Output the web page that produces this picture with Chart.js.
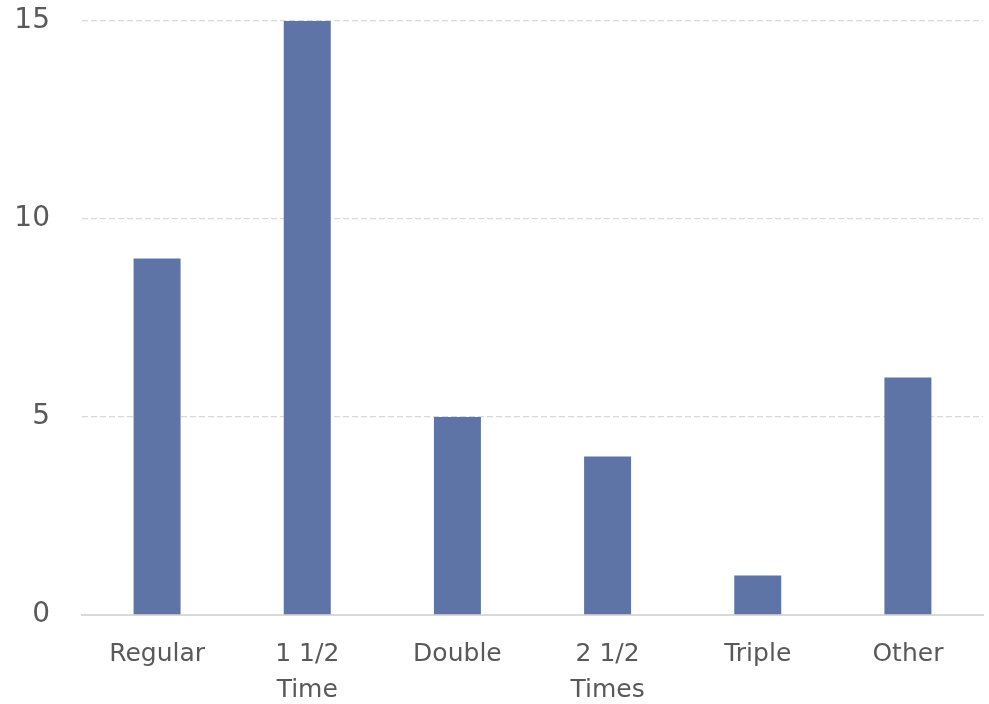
<!DOCTYPE html>
<html>
<head>
<meta charset="utf-8">
<script src="https://cdn.jsdelivr.net/npm/chart.js@4/dist/chart.umd.min.js"></script>
<style>
  html, body { margin: 0; padding: 0; background: #ffffff; }
  #wrap { width: 989px; height: 704px; position: relative; }
</style>
</head>
<body>
<div id="wrap"><canvas id="chart"></canvas></div>
<script>
// Overtime pay categories and their counts
const categories = ["Regular", ["1 1/2", "Time"], "Double", ["2 1/2", "Times"], "Triple", "Other"];
const counts = [9, 15, 5, 4, 1, 6];
const yTicks = [0, 5, 10, 15];

const barColor = "#5F74A6";
const textColor = "#595959";
const gridColor = "#D9D9D9";
const fontFamily = "'DejaVu Sans', sans-serif";

new Chart(document.getElementById("chart"), {
  type: "bar",
  data: {
    labels: categories,
    datasets: [{
      data: counts,
      backgroundColor: barColor,
      borderWidth: 0,
      barPercentage: 1,
      categoryPercentage: 0.313
    }]
  },
  options: {
    responsive: true,
    maintainAspectRatio: false,
    animation: false,
    layout: { padding: { top: 21, right: 6, bottom: 0, left: 0 } },
    plugins: { legend: { display: false }, tooltip: { enabled: false } },
    scales: {
      x: {
        afterFit: s => { s.height = 89; },
        grid: { display: false, drawTicks: false },
        border: { display: true, color: gridColor, width: 2 },
        ticks: {
          color: textColor,
          padding: 22,
          maxRotation: 0,
          autoSkip: false,
          font: { family: fontFamily, size: 25, lineHeight: 1.42 }
        }
      },
      y: {
        min: 0,
        max: 15,
        afterFit: s => { s.width = 82; s.paddingTop = 0; s.paddingBottom = 0; },
        afterBuildTicks: s => { s.ticks = yTicks.map(v => ({ value: v })); },
        grid: {
          drawTicks: false,
          color: ctx => ctx.tick && ctx.tick.value === 0 ? "rgba(0,0,0,0)" : gridColor,
          lineWidth: 1.3
        },
        border: { display: false, dash: [6, 3] },
        ticks: {
          color: textColor,
          padding: 32,
          font: { family: fontFamily, size: 28 }
        }
      }
    }
  }
});
</script>
</body>
</html>
